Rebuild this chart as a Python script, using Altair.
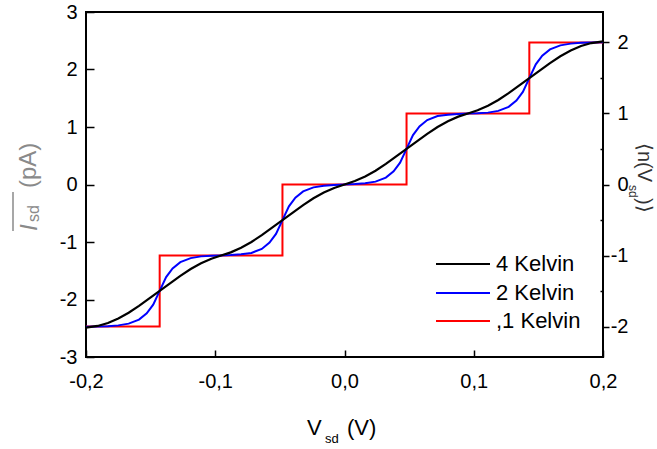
import altair as alt
import pandas as pd

FONT = "Liberation Sans"

# ---- data ----
series = ["4 Kelvin", "2 Kelvin", ",1 Kelvin"]
colors = ["#000000", "#0000ff", "#ff0000"]

black_x = [-0.200, -0.191, -0.183, -0.175, -0.167, -0.159, -0.151, -0.143, -0.135, -0.127,
           -0.119, -0.111, -0.103, -0.0955, -0.088, -0.080, -0.072, -0.064, -0.056, -0.048,
           -0.040, -0.032, -0.024, -0.016, -0.008, 0.000, 0.008, 0.016, 0.024, 0.032,
           0.040, 0.048, 0.056, 0.064, 0.072, 0.080, 0.088, 0.0955, 0.103, 0.111,
           0.119, 0.127, 0.135, 0.143, 0.151, 0.159, 0.167, 0.175, 0.183, 0.191, 0.200]
black_y = [-2.49, -2.46, -2.41, -2.33, -2.23, -2.11, -1.98, -1.85, -1.72, -1.59,
           -1.47, -1.37, -1.29, -1.235, -1.18, -1.10, -1.00, -0.88, -0.75, -0.62,
           -0.49, -0.36, -0.24, -0.14, -0.06, 0.00, 0.06, 0.14, 0.24, 0.36,
           0.49, 0.62, 0.75, 0.88, 1.00, 1.10, 1.18, 1.235, 1.29, 1.37,
           1.47, 1.59, 1.72, 1.85, 1.98, 2.11, 2.23, 2.33, 2.41, 2.46, 2.49]

blue_x = [-0.200, -0.191, -0.183, -0.175, -0.167, -0.159, -0.153, -0.148, -0.143, -0.138,
          -0.133, -0.127, -0.119, -0.111, -0.103, -0.0955, -0.088, -0.080, -0.072, -0.064,
          -0.058, -0.053, -0.048, -0.043, -0.038, -0.032, -0.024, -0.016, -0.008, 0.000,
          0.008, 0.016, 0.024, 0.032, 0.038, 0.043, 0.048, 0.053, 0.058, 0.064,
          0.072, 0.080, 0.088, 0.0955, 0.103, 0.111, 0.119, 0.127, 0.133, 0.138,
          0.143, 0.148, 0.153, 0.159, 0.167, 0.175, 0.183, 0.191, 0.200]
blue_y = [-2.475, -2.47, -2.465, -2.45, -2.42, -2.35, -2.24, -2.09, -1.85, -1.61,
          -1.46, -1.35, -1.28, -1.25, -1.24, -1.235, -1.228, -1.215, -1.19, -1.12,
          -1.01, -0.86, -0.62, -0.38, -0.23, -0.12, -0.05, -0.02, -0.007, 0.00,
          0.007, 0.02, 0.05, 0.12, 0.23, 0.38, 0.62, 0.86, 1.01, 1.12,
          1.19, 1.215, 1.228, 1.235, 1.24, 1.25, 1.28, 1.35, 1.46, 1.61,
          1.85, 2.09, 2.24, 2.35, 2.42, 2.45, 2.465, 2.47, 2.475]

red_x = [-0.200, -0.143, -0.143, -0.048, -0.048, 0.048, 0.048, 0.143, 0.143, 0.200]
red_n = [-2, -2, -1, -1, 0, 0, 1, 1, 2, 2]

x_ticks = [-0.2, -0.1, 0.0, 0.1, 0.2]
left_ticks = [-3, -2, -1, 0, 1, 2, 3]
right_ticks = [-2, -1.5, -1, -0.5, 0, 0.5, 1, 1.5, 2]

black_df = pd.DataFrame({"x": black_x, "y": black_y})
blue_df = pd.DataFrame({"x": blue_x, "y": blue_y})
red_df = pd.DataFrame({"x": red_x, "n": red_n, "i": list(range(len(red_x)))})

# ---- axes ----
x_axis = alt.Axis(
    values=x_ticks, offset=-7, tickSize=7, tickWidth=1.5, tickColor="black",
    domain=False, grid=False, title=None, labelFlush=False,
    labelExpr="(datum.value < 0 ? '-' : '') + replace(format(abs(datum.value), '.1f'), '.', ',')",
    labelFont=FONT, labelFontSize=20, labelColor="black", labelPadding=14,
)
x_enc = alt.X("x:Q", scale=alt.Scale(domain=[-0.2, 0.2], nice=False, zero=False), axis=x_axis)

left_axis = alt.Axis(
    orient="left", values=left_ticks, offset=-8, tickSize=8, tickWidth=1.5, tickColor="black",
    domain=False, grid=False, title=None, labelFlush=False,
    labelExpr="toString(datum.value)",
    labelFont=FONT, labelFontSize=20, labelColor="black", labelPadding=9,
)
right_axis = alt.Axis(
    orient="right", values=right_ticks, offset=-3,
    tickSize={"condition": {"test": "datum.value % 1 == 0", "value": 9}, "value": 3},
    tickDash={"condition": {"test": "datum.value % 1 == 0", "value": [0, 3, 6, 3]}, "value": [10, 0]},
    tickWidth=1.5, tickColor="black",
    domain=False, grid=False, title=None, labelFlush=False,
    labelExpr="datum.value % 1 == 0 ? toString(datum.value) : ''",
    labelAlign="right",
    labelFont=FONT, labelFontSize=20, labelColor="black", labelPadding=19,
)

y_left = alt.Y("y:Q", scale=alt.Scale(domain=[-3, 3], nice=False, zero=False), axis=left_axis)
y_right = alt.Y("n:Q", scale=alt.Scale(domain=[-2.429, 2.429], nice=False, zero=False), axis=right_axis)

red_layer = alt.Chart(red_df).mark_line(color=colors[2], strokeWidth=2).encode(
    x=x_enc, y=y_right, order=alt.Order("i:Q"))
blue_layer = alt.Chart(blue_df).mark_line(color=colors[1], strokeWidth=2).encode(x=x_enc, y=y_left)
black_layer = alt.Chart(black_df).mark_line(color=colors[0], strokeWidth=2.2).encode(x=x_enc, y=y_left)
curves = alt.layer(blue_layer, black_layer)


def text(label, x, y, size, **kw):
    return alt.Chart(pd.DataFrame({"t": [label]})).mark_text(
        font=kw.pop("font", FONT), fontSize=size, **kw
    ).encode(x=alt.value(x), y=alt.value(y), text="t:N")


extra = []
# legend
leg_y = [252, 281, 309]
for name, col, yy in zip(series, colors, leg_y):
    extra.append(
        alt.Chart(pd.DataFrame({"s": [name]})).mark_rule(color=col, strokeWidth=2).encode(
            x=alt.value(350), x2=alt.value(404), y=alt.value(yy))
    )
    extra.append(text(name, 410, yy, 22, align="left", baseline="middle", color="black"))

# x title
extra.append(text("V", 221, 423, 22, align="left", baseline="alphabetic", color="black"))
extra.append(text("sd", 239, 431, 13, align="left", baseline="alphabetic", color="black"))
extra.append(text("(V)", 261, 423, 22, align="left", baseline="alphabetic", color="black"))

# left title (rotated, grey, overlined)
grey = "#8a8a8a"
extra.append(text("I", -56, 219, 24, align="left", baseline="middle", angle=270,
                  color=grey, fontStyle="italic"))
extra.append(text("sd", -52, 210, 16, align="left", baseline="middle", angle=270, color=grey))
extra.append(text("(pA)", -57, 176, 24, align="left", baseline="middle", angle=270, color=grey))
extra.append(
    alt.Chart(pd.DataFrame({"s": ["bar"]})).mark_rule(color=grey, strokeWidth=1.5).encode(
        x=alt.value(-73), y=alt.value(180), y2=alt.value(219))
)

# right title (rotated)
dark = "#333333"
extra.append(text("\u27e8n(V", 558, 131, 20, align="left", baseline="middle", angle=90, color=dark))
extra.append(text("sd", 547, 173, 12, align="left", baseline="middle", angle=90, color=dark))
extra.append(text(")\u27e9", 558, 186, 20, align="left", baseline="middle", angle=90, color=dark))

chart = alt.layer(red_layer, curves, *extra).resolve_scale(y="independent").properties(
    width=517, height=345,
    padding={"left": 86, "top": 12, "right": 54, "bottom": 92},
    autosize=alt.AutoSizeParams(type="none"),
).configure_view(stroke="black", strokeWidth=2)

chart.save("out.html", embed_options={"renderer": "svg", "actions": False})
